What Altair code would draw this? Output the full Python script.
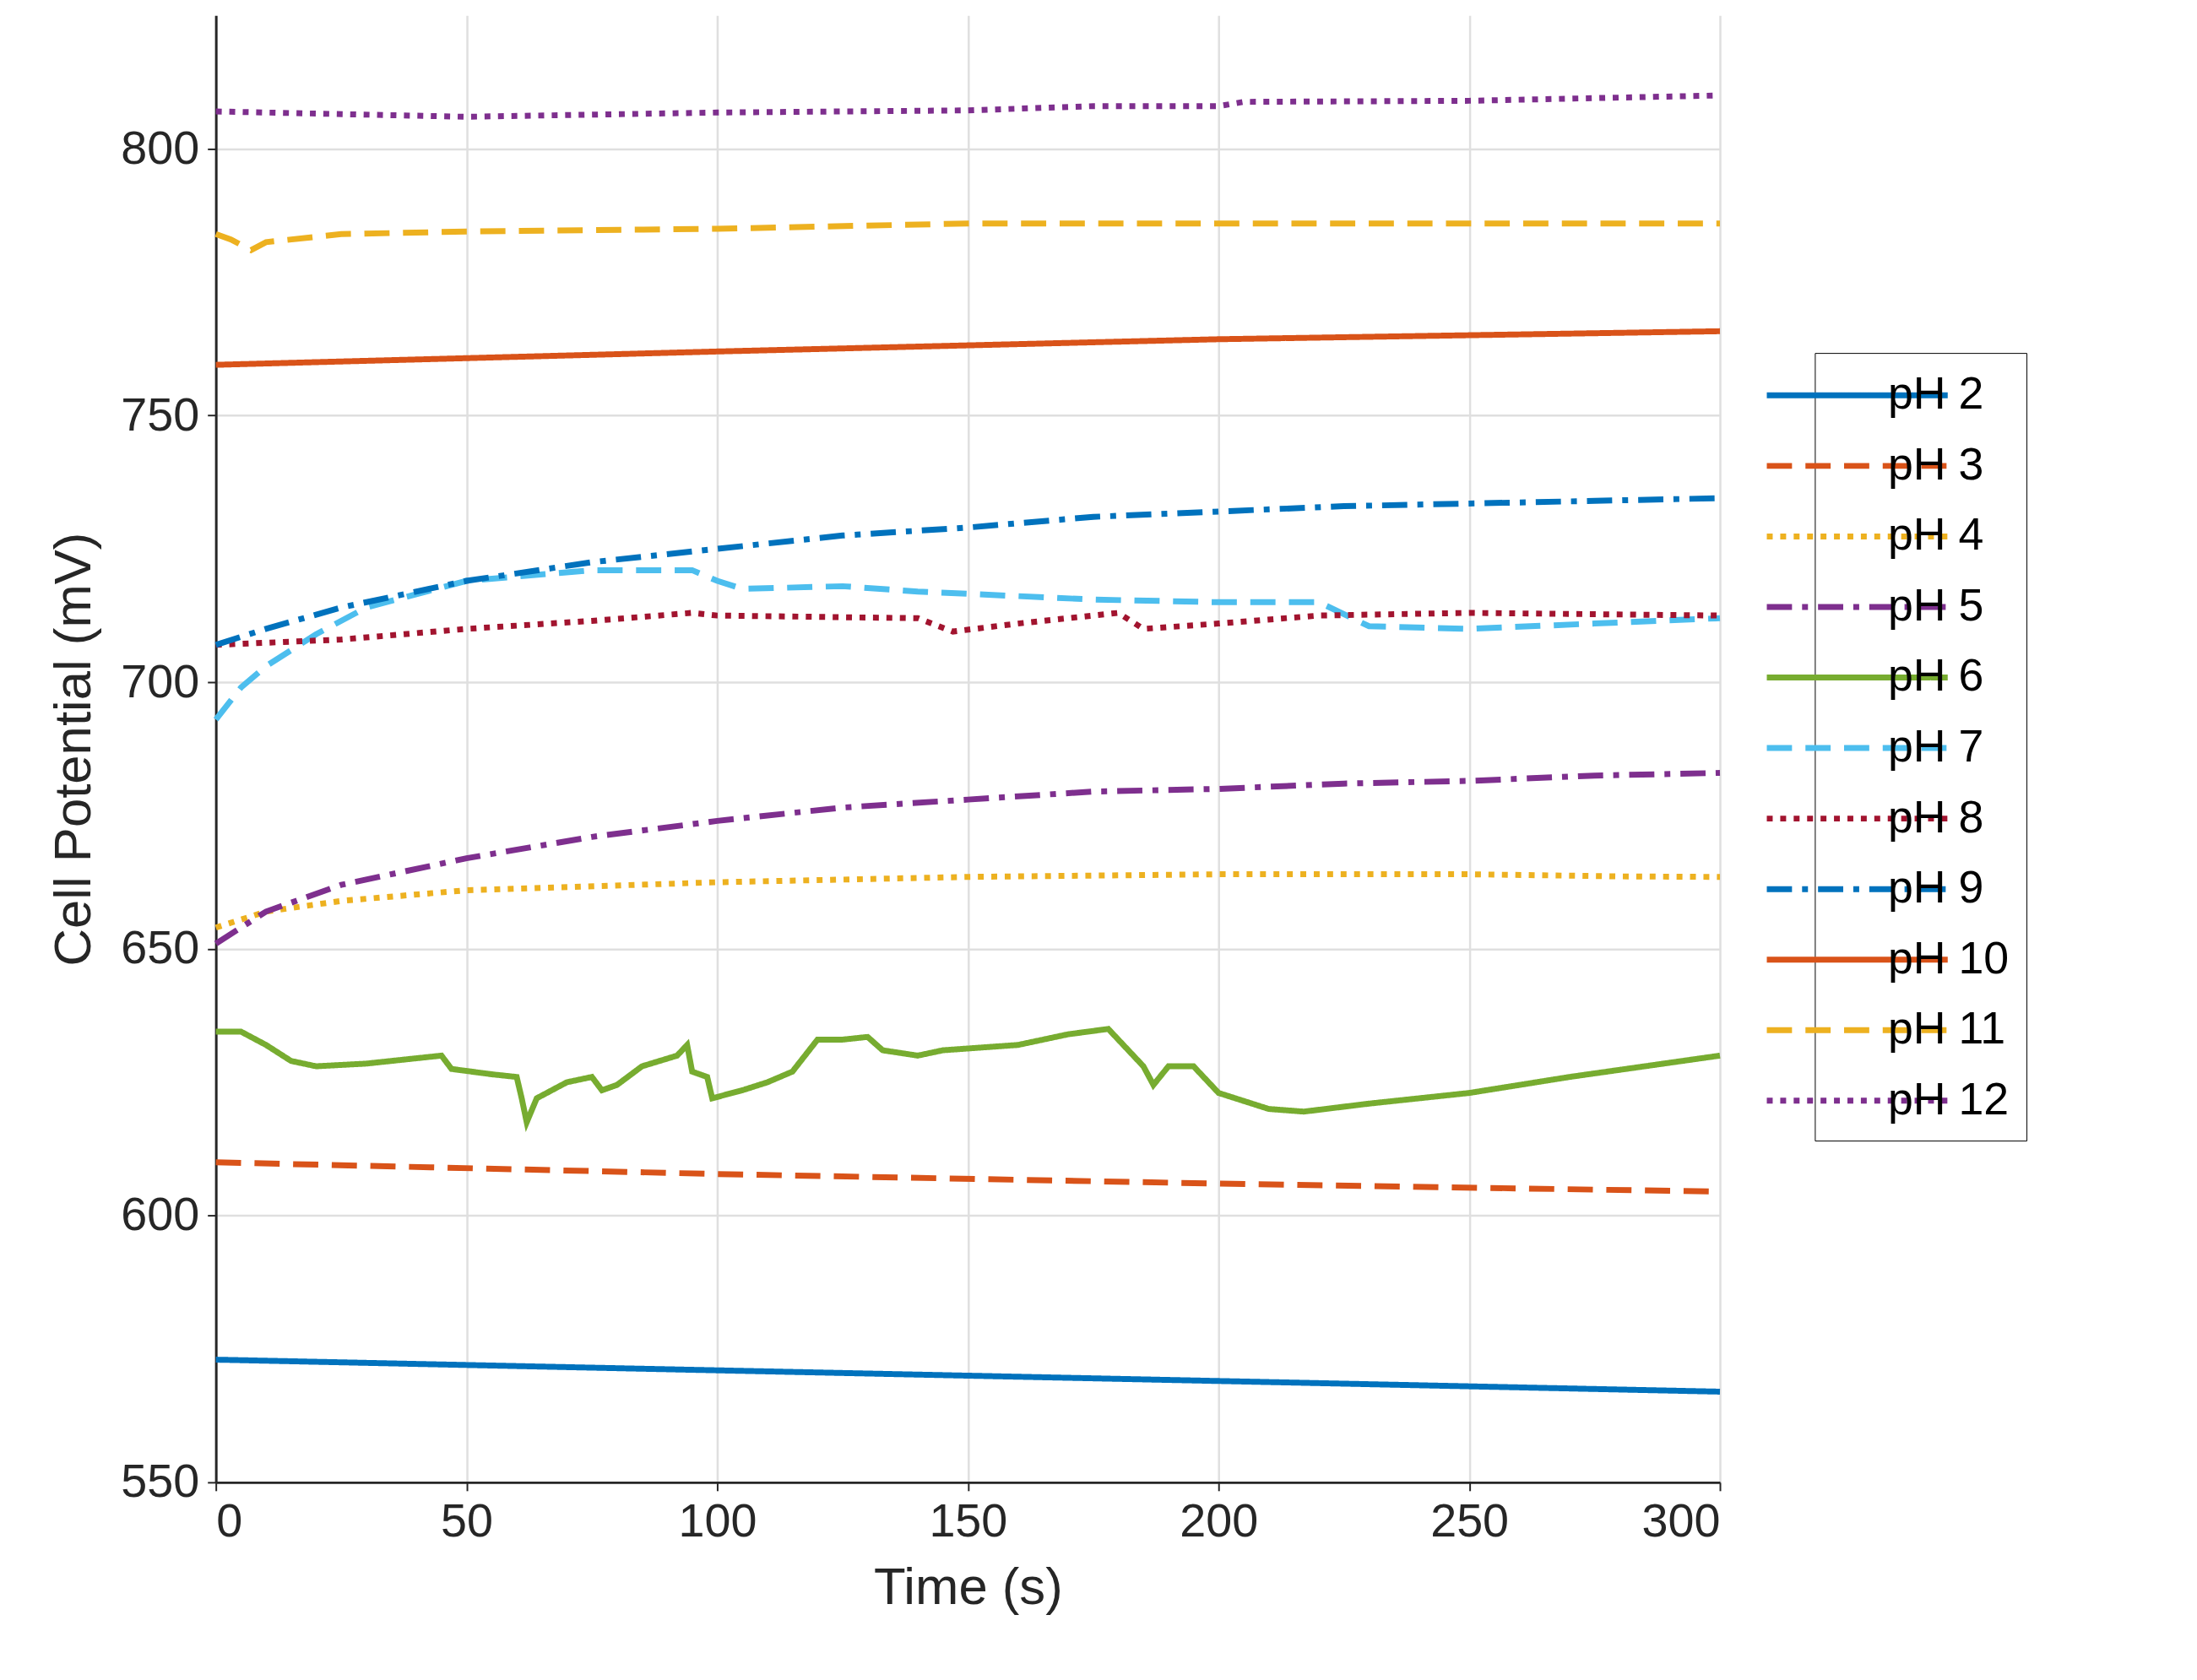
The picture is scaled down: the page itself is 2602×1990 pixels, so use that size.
import altair as alt
import pandas as pd

# (time s, potential mV) pairs
PH2_T = [0, 100, 200, 300]
PH2_V = [573, 571, 569, 567]
PH3_T = [0, 100, 200, 300]
PH3_V = [610, 607.8, 606, 604.5]
PH4_T = [0, 10, 25, 50, 100, 150, 200, 250, 280, 300]
PH4_V = [654, 657, 659, 661, 662.5, 663.5, 664, 664, 663.6, 663.5]
PH5_T = [0, 10, 25, 50, 75, 100, 125, 150, 175, 200, 225, 250, 275, 300]
PH5_V = [651, 657, 662, 667, 671, 674, 676.5, 678, 679.5, 680, 681, 681.5, 682.5, 683]
PH6_T = [0, 5, 10, 15, 20, 30, 40, 45, 47, 55, 60, 61, 62, 64, 70, 75, 77, 80, 85, 92, 94, 95, 98,
         99, 105, 110, 115, 120, 125, 130, 133, 140, 145, 160, 170, 178, 185, 187, 190, 195, 200,
         210, 217, 230, 250, 270, 300]
PH6_V = [634.5, 634.5, 632, 629, 628, 628.5, 629.5, 630, 627.5, 626.5, 626, 622, 617.5, 622, 625,
         626, 623.5, 624.5, 628, 630, 632, 627, 626, 622, 623.5, 625, 627, 633, 633, 633.5, 631,
         630, 631, 632, 634, 635, 628, 624.5, 628, 628, 623, 620, 619.5, 621, 623, 626, 630]
PH7_T = [0, 5, 10, 20, 30, 50, 75, 95, 100, 105, 125, 140, 175, 200, 220, 230, 250, 275, 300]
PH7_V = [693, 699, 703, 709, 714, 719, 721, 721, 719, 717.5, 718, 717, 715.5, 715, 715, 710.5,
         710, 711, 712]
PH8_T = [0, 25, 50, 75, 95, 100, 140, 147, 160, 180, 185, 200, 220, 250, 300]
PH8_V = [707, 708, 710, 711.5, 713, 712.5, 712, 709.5, 711, 713, 710, 711, 712.5, 713, 712.5]
PH9_T = [0, 10, 25, 50, 75, 100, 125, 150, 175, 200, 225, 250, 275, 300]
PH9_V = [707, 710, 714, 719, 722.5, 725, 727.5, 729, 731, 732, 733, 733.5, 734, 734.5]
PH10_T = [0, 100, 200, 300]
PH10_V = [759.5, 762, 764.3, 765.8]
PH11_T = [0, 3, 7, 10, 25, 50, 100, 150, 300]
PH11_V = [784, 783, 781, 782.5, 784, 784.5, 785, 786, 786]
PH12_T = [0, 50, 100, 150, 175, 200, 205, 250, 275, 300]
PH12_V = [807, 806, 806.8, 807.2, 808, 808, 808.8, 809, 809.5, 810]

SERIES = [("pH 2", PH2_T, PH2_V), ("pH 3", PH3_T, PH3_V), ("pH 4", PH4_T, PH4_V),
          ("pH 5", PH5_T, PH5_V), ("pH 6", PH6_T, PH6_V), ("pH 7", PH7_T, PH7_V),
          ("pH 8", PH8_T, PH8_V), ("pH 9", PH9_T, PH9_V), ("pH 10", PH10_T, PH10_V),
          ("pH 11", PH11_T, PH11_V), ("pH 12", PH12_T, PH12_V)]
COLORS = ["#0072BD", "#D95319", "#EDB120", "#7E2F8E", "#77AC30", "#4DBEEE", "#A2142F",
          "#0072BD", "#D95319", "#EDB120", "#7E2F8E"]
SOLID, DASH, DOT, DASHDOT = [1, 0], [30, 16], [7, 9], [30, 12, 7, 12]
DASHES = [SOLID, DASH, DOT, DASHDOT, SOLID, DASH, DOT, DASHDOT, SOLID, DASH, DOT]

names = [s[0] for s in SERIES]
df = pd.concat(
    [pd.DataFrame({"series": n, "t": t, "v": v}) for n, t, v in SERIES], ignore_index=True
)

legend = alt.Legend(
    title=None, orient="none", legendX=1904, legendY=402, symbolType="M-4,0H4",
    symbolSize=2900, symbolStrokeWidth=7, labelFontSize=54, labelFont="Liberation Sans",
    labelColor="black", rowPadding=26, strokeColor="black", padding=20, labelOffset=6,
    fillColor="white",
)

chart = (
    alt.Chart(df)
    .mark_line(strokeWidth=7)
    .encode(
        x=alt.X("t:Q", title="Time (s)", scale=alt.Scale(domain=[0, 300], nice=False),
                axis=alt.Axis(values=list(range(0, 301, 50)))),
        y=alt.Y("v:Q", title="Cell Potential (mV)",
                scale=alt.Scale(domain=[550, 825], nice=False, zero=False),
                axis=alt.Axis(values=list(range(550, 801, 50)))),
        color=alt.Color("series:N", sort=names,
                        scale=alt.Scale(domain=names, range=COLORS), legend=legend),
        strokeDash=alt.StrokeDash("series:N", sort=names,
                                  scale=alt.Scale(domain=names, range=DASHES), legend=legend),
        order="t:Q",
    )
    .properties(width=1791, height=1747, autosize=alt.AutoSizeParams(type="none"),
                padding={"left": 249, "top": 5, "right": 560, "bottom": 220})
    .configure_view(stroke=None)
    .configure_axis(
        labelFontSize=56, titleFontSize=62, labelFont="Liberation Sans",
        titleFont="Liberation Sans", titleFontWeight="normal", labelColor="#262626",
        titleColor="#262626", domainColor="#262626", domainWidth=3, tickColor="#262626",
        tickSize=10, tickWidth=2, gridColor="#dfdfdf", gridWidth=2.5, labelPadding=10,
    )
    .configure_axisX(titlePadding=20)
    .configure_axisY(titlePadding=24)
)

chart.save("out.html", embed_options={"renderer": "svg", "actions": False})
